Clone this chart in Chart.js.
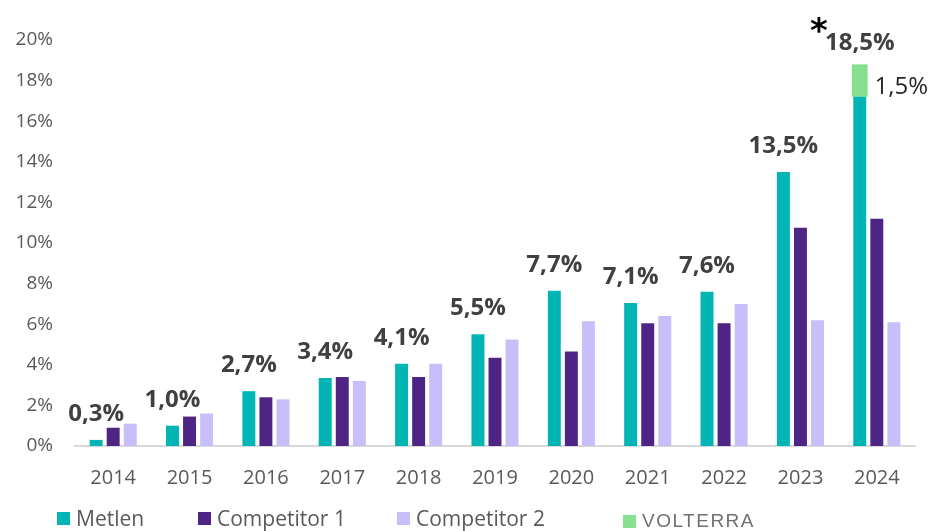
<!DOCTYPE html>
<html>
<head>
<meta charset="utf-8">
<title>Metlen vs competitors</title>
<script src="https://cdn.jsdelivr.net/npm/chart.js@4/dist/chart.umd.min.js"></script>
<style>
  body { margin: 0; background: #fff; }
  #wrap { position: relative; width: 933px; height: 531px; }
  #legend .item { position: absolute; display: flex; align-items: center; font-family: "Open Sans", sans-serif; font-size: 21px; color: #595959; white-space: nowrap; }
  #legend .box { width: 13px; height: 13px; margin-right: 6px; }
  #legend .volterra { font-family: "Liberation Sans", Arial, sans-serif; font-size: 19px; letter-spacing: 1.5px; color: #707070; }
</style>
</head>
<body>
<div id="wrap">
  <canvas id="myChart" width="933" height="531"></canvas>
  <div id="legend"></div>
</div>
<script>
// data
const years = ["2014", "2015", "2016", "2017", "2018", "2019", "2020", "2021", "2022", "2023", "2024"];
const metlen = [0.3, 1.0, 2.7, 3.35, 4.05, 5.5, 7.65, 7.05, 7.6, 13.5, 17.2];
const competitor1 = [0.9, 1.45, 2.4, 3.4, 3.4, 4.35, 4.65, 6.05, 6.05, 10.75, 11.2];
const competitor2 = [1.1, 1.6, 2.3, 3.2, 4.05, 5.25, 6.15, 6.4, 7.0, 6.2, 6.1];
const volterra = [null, null, null, null, null, null, null, null, null, null, 1.6];
const metlenLabels = ["0,3%", "1,0%", "2,7%", "3,4%", "4,1%", "5,5%", "7,7%", "7,1%", "7,6%", "13,5%", "18,5%"];
const volterraLabel = "1,5%";
const seriesNames = ["Metlen", "Competitor 1", "Competitor 2", "VOLTERRA"];

const colors = ["#00B5B3", "#4E2585", "#C8BEF9", "#86E08F"];

// labels above the Metlen bars (+ the Volterra part on 2024)
const barLabels = {
  id: "barLabels",
  afterDatasetsDraw(chart) {
    const ctx = chart.ctx;
    const mMeta = chart.getDatasetMeta(0);
    const vMeta = chart.getDatasetMeta(3);
    ctx.save();
    ctx.textAlign = "center";
    ctx.textBaseline = "alphabetic";
    mMeta.data.forEach((bar, i) => {
      let top = bar.y;
      let gap = 19;
      if (volterra[i] != null) {
        top = vMeta.data[i].y;
        gap = 14;
      }
      ctx.font = "bold 24px 'Open Sans'";
      ctx.fillStyle = "#404040";
      const base = top - gap;
      ctx.fillText(metlenLabels[i], bar.x, base);

      if (volterra[i] != null) {
        const w = ctx.measureText(metlenLabels[i]).width;
        ctx.font = "bold 34px 'DejaVu Sans'";
        ctx.fillStyle = "#000";
        ctx.fillText("*", bar.x - w / 2 - 6, base - 8);

        const v = vMeta.data[i];
        ctx.font = "24px 'Open Sans'";
        ctx.fillStyle = "#262626";
        ctx.textAlign = "left";
        ctx.fillText(volterraLabel, v.x + v.width / 2 + 7, (v.y + v.base) / 2 + 13);
        ctx.textAlign = "center";
      }
    });
    ctx.restore();
  }
};

const ctx = document.getElementById("myChart");
const chart = new Chart(ctx, {
  type: "bar",
  data: {
    labels: years,
    datasets: [
      { label: seriesNames[0], data: metlen, backgroundColor: colors[0], stack: "a" },
      { label: seriesNames[1], data: competitor1, backgroundColor: colors[1], stack: "b" },
      { label: seriesNames[2], data: competitor2, backgroundColor: colors[2], stack: "c" },
      { label: seriesNames[3], data: volterra, backgroundColor: colors[3], stack: "a", barPercentage: 0.92 },
    ],
  },
  options: {
    responsive: false,
    animation: false,
    barPercentage: 0.76,
    categoryPercentage: 0.67,
    layout: { padding: { top: 40, right: 18, left: 0, bottom: 0 } },
    plugins: {
      legend: { display: false },
      tooltip: { enabled: false },
    },
    scales: {
      x: {
        stacked: true,
        grid: { display: false, drawTicks: false },
        border: { display: true, color: "#D9D9D9", width: 2 },
        ticks: { color: "#595959", font: { family: "Open Sans", size: 20 }, padding: 20 },
        afterFit: (scale) => { scale.height = 85; },
      },
      y: {
        stacked: true,
        min: 0,
        max: 20,
        grid: { display: false, drawTicks: false },
        border: { display: false },
        ticks: {
          stepSize: 2,
          color: "#595959",
          font: { family: "Open Sans", size: 19 },
          padding: 22,
          callback: (v) => v + "%",
        },
        afterFit: (scale) => { scale.width = 75; },
      },
    },
  },
  plugins: [barLabels],
});

// legend under the chart
const legendLeft = [57, 198, 397, 623];
const legendTop = [504, 504, 504, 510];
const legend = document.getElementById("legend");
seriesNames.forEach((name, i) => {
  const item = document.createElement("div");
  item.className = "item" + (i === 3 ? " volterra" : "");
  item.style.left = legendLeft[i] + "px";
  item.style.top = legendTop[i] + "px";
  item.innerHTML = `<span class="box" style="background:${colors[i]}"></span><span>${name}</span>`;
  legend.appendChild(item);
});
</script>
</body>
</html>
